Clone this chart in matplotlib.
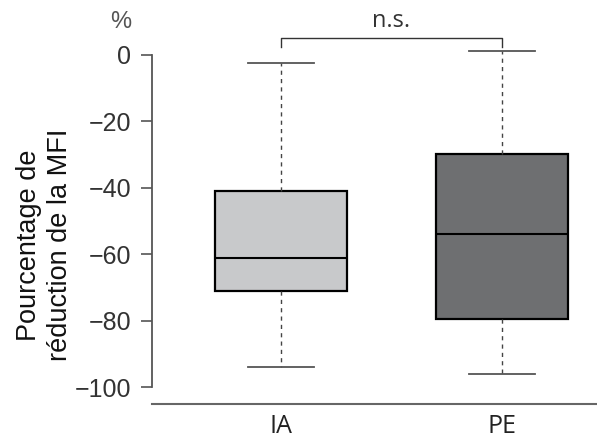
import matplotlib
matplotlib.use("Agg")
import matplotlib.pyplot as plt

groups = ["IA", "PE"]
whisker_low = [-93.8, -96.0]
q1 = [-70.9, -79.3]
median = [-61.2, -53.8]
q3 = [-41.0, -29.8]
whisker_high = [-2.3, 1.2]
box_colors = ["#c8c9cb", "#6e6f71"]
yticks = [0, -20, -40, -60, -80, -100]

fig = plt.figure(figsize=(5.97, 4.38), dpi=100)
ax = fig.add_axes([0.2546, 0.0776, 0.7454, 0.8386])

stats = []
for i, g in enumerate(groups):
    stats.append(dict(label=g, whislo=whisker_low[i], q1=q1[i], med=median[i],
                      q3=q3[i], whishi=whisker_high[i], fliers=[]))

bp = ax.bxp(stats, positions=[0, 1], widths=0.6, capwidths=0.3, patch_artist=True,
            showfliers=False,
            boxprops=dict(edgecolor="black", linewidth=1.6),
            medianprops=dict(color="black", linewidth=1.5),
            whiskerprops=dict(color="#444444", linewidth=1.0, linestyle=(0, (3, 3))),
            capprops=dict(color="#555555", linewidth=1.3))
for patch, c in zip(bp["boxes"], box_colors):
    patch.set_facecolor(c)

# significance bracket
ax.plot([0, 0, 1, 1], [2.5, 5.0, 5.0, 2.5], color="#333333", lw=1.0, clip_on=False)
ax.text(0.5, 6.6, "n.s.", ha="center", va="bottom", fontsize=17,
        family="Open Sans", color="#333333")

ax.set_xlim(-0.584, 1.43)
ax.set_ylim(-105, 5.5)
ax.set_yticks(yticks)
ax.set_yticklabels(["0" if v == 0 else "\u2212" + str(-v) for v in yticks],
                   fontsize=18, family="Liberation Sans", color="#333333")
ax.set_xticks([0, 1])
ax.set_xticklabels(groups, fontsize=18, family="Open Sans", color="#222222")
ax.tick_params(axis="x", length=0, pad=7)
ax.tick_params(axis="y", length=8, width=1.2, color="#555555", pad=7)

for s in ["top", "right"]:
    ax.spines[s].set_visible(False)
ax.spines["left"].set_bounds(-100, 0)
ax.spines["left"].set_color("#555555")
ax.spines["left"].set_linewidth(1.3)
ax.spines["bottom"].set_color("#666666")
ax.spines["bottom"].set_linewidth(1.5)

fig.text(121 / 597, 1 - 22 / 438, "%", ha="center", va="center", fontsize=17,
         family="Liberation Sans", color="#555555")
fig.text(45 / 597, 1 - 245 / 438, "Pourcentage de\nréduction de la MFI", rotation=90,
         ha="center", va="center", fontsize=19.5, family="Liberation Sans",
         linespacing=1.25, color="#111111")

fig.savefig("out.png", dpi=100)
